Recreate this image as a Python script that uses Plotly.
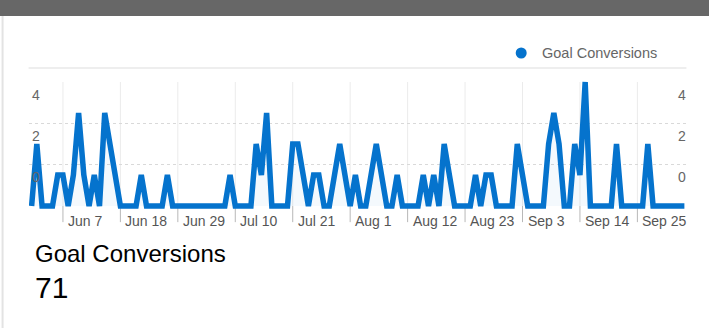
import pandas as pd
import plotly.graph_objects as go

# Daily goal conversions, Jun 1 - Oct 4
start_date = "2023-06-01"
conversions = [
    0, 2, 0, 0, 0, 1, 1, 0, 1, 3,
    1, 0, 1, 0, 3, 2, 1, 0, 0, 0,
    0, 1, 0, 0, 0, 0, 1, 0, 0, 0,
    0, 0, 0, 0, 0, 0, 0, 0, 1, 0,
    0, 0, 0, 2, 1, 3, 0, 0, 0, 0,
    2, 2, 1, 0, 1, 1, 0, 0, 1, 2,
    1, 0, 1, 0, 0, 1, 2, 1, 0, 0,
    1, 0, 0, 0, 0, 1, 0, 1, 0, 2,
    1, 0, 0, 0, 0, 1, 0, 1, 1, 0,
    0, 0, 0, 2, 1, 0, 0, 0, 0, 2,
    3, 2, 0, 0, 2, 1, 4, 0, 0, 0,
    0, 0, 2, 0, 0, 0, 0, 0, 2, 0,
    0, 0, 0, 0, 0, 0,
]
dates = pd.date_range(start_date, periods=len(conversions), freq="D")

tick_dates = ["2023-06-07", "2023-06-18", "2023-06-29", "2023-07-10",
              "2023-07-21", "2023-08-01", "2023-08-12", "2023-08-23",
              "2023-09-03", "2023-09-14", "2023-09-25"]
tick_labels = ["Jun 7", "Jun 18", "Jun 29", "Jul 10", "Jul 21", "Aug 1",
               "Aug 12", "Aug 23", "Sep 3", "Sep 14", "Sep 25"]
y_labels = ["0", "2", "4"]
metric_name = "Goal Conversions"

BLUE = "#0573cd"
FONT = "Liberation Sans, Arial, Helvetica, sans-serif"

W, H = 709, 328
ML, MR, MT, MB = 29.4, 22.4, 71, 104
Y_MAX = 4
Y_RANGE = [-0.58, 4.355]
grid_vals = [Y_MAX * k / 3 for k in (1, 2, 3)]


def px_x(px):
    return (px - ML) / (W - ML - MR)


def px_y(py):
    return (H - MB - py) / (H - MT - MB)


fig = go.Figure()
fig.add_trace(go.Scatter(
    x=dates, y=conversions, mode="lines",
    line=dict(color=BLUE, width=5.5),
    fill="tozeroy", fillcolor="rgba(5,115,205,0.045)",
    showlegend=False, hoverinfo="skip",
))

shapes = []
annotations = []

# vertical grid + tick marks
for d in tick_dates:
    shapes.append(dict(type="line", xref="x", yref="y", x0=d, x1=d, y0=0, y1=Y_MAX,
                       line=dict(color="#ebebeb", width=1), layer="below"))
    shapes.append(dict(type="line", xref="x", yref="y", x0=d, x1=d, y0=-0.52, y1=0,
                       line=dict(color="#b8b8b8", width=1), layer="below"))

for d, lab in zip(tick_dates, tick_labels):
    annotations.append(dict(x=d, y=0, xref="x", yref="y", text=lab, showarrow=False,
                            xanchor="left", yanchor="middle", xshift=3, yshift=-15,
                            font=dict(family=FONT, size=14, color="#555555")))

# value labels on both sides
for v, lab in zip(grid_vals, y_labels):
    for xp, anchor, shift in ((0, "left", 1), (1, "right", 1)):
        annotations.append(dict(x=xp, y=v, xref="paper", yref="y", text=lab,
                                showarrow=False, xanchor=anchor, yanchor="middle",
                                xshift=shift, yshift=-12.5,
                                font=dict(family=FONT, size=14, color="#666666")))

# header bar, left border, separator
shapes.append(dict(type="rect", xref="paper", yref="paper", x0=px_x(0), x1=px_x(W),
                   y0=px_y(16), y1=px_y(-2), fillcolor="#676767", line=dict(width=0),
                   layer="above"))
shapes.append(dict(type="line", xref="paper", yref="paper", x0=px_x(3), x1=px_x(3),
                   y0=px_y(16), y1=px_y(H + 2), line=dict(color="#e3e3e3", width=2)))
shapes.append(dict(type="line", xref="paper", yref="paper", x0=px_x(29), x1=px_x(686),
                   y0=px_y(68), y1=px_y(68), line=dict(color="#eeeeee", width=2)))

# legend
shapes.append(dict(type="circle", xref="paper", yref="paper",
                   xsizemode="pixel", ysizemode="pixel",
                   xanchor=px_x(521), yanchor=px_y(53),
                   x0=-5.5, x1=5.5, y0=-5.5, y1=5.5,
                   fillcolor=BLUE, line=dict(width=0)))
annotations.append(dict(x=px_x(540), y=px_y(53), xref="paper", yref="paper",
                        text=metric_name, showarrow=False, xanchor="left",
                        yanchor="middle",
                        font=dict(family=FONT, size=14.5, color="#666666")))

# metric summary
annotations.append(dict(x=px_x(33), y=px_y(253), xref="paper", yref="paper",
                        text=metric_name, showarrow=False, xanchor="left",
                        yanchor="middle", font=dict(family=FONT, size=24, color="#000000")))
annotations.append(dict(x=px_x(33), y=px_y(287), xref="paper", yref="paper",
                        text=str(sum(conversions)), showarrow=False, xanchor="left",
                        yanchor="middle", font=dict(family=FONT, size=30, color="#000000")))

x_pad = pd.Timedelta(hours=12)
fig.update_layout(
    width=W, height=H,
    margin=dict(l=ML, r=MR, t=MT, b=MB, pad=0),
    paper_bgcolor="white", plot_bgcolor="white",
    font=dict(family=FONT),
    xaxis=dict(range=[dates[0] - x_pad, dates[-1] + x_pad], showgrid=False,
               showticklabels=False, zeroline=False, showline=False, ticks=""),
    yaxis=dict(range=Y_RANGE, tickvals=grid_vals[:2], showticklabels=False,
               showgrid=True, gridcolor="#d9d9d9", griddash="dot", gridwidth=1,
               zeroline=False, showline=False, ticks=""),
    shapes=shapes, annotations=annotations,
)

fig.write_html("out.html", config={"displayModeBar": False})
